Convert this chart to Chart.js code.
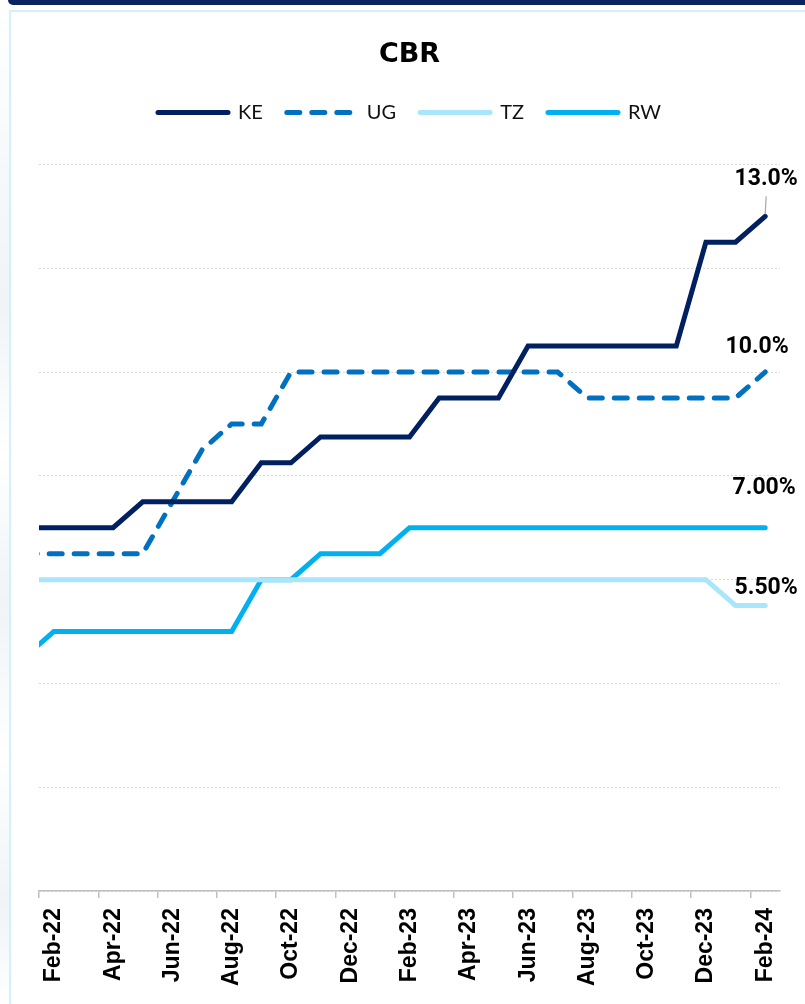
<!DOCTYPE html>
<html>
<head>
<meta charset="utf-8">
<title>CBR</title>
<script src="https://cdn.jsdelivr.net/npm/chart.js@4.4.1/dist/chart.umd.min.js"></script>
<style>
  html, body { margin: 0; padding: 0; background: #fff; width: 805px; height: 1004px; overflow: hidden; }
  .topbar { position: absolute; left: 8px; right: 0; top: 0; height: 5px; background: #0b2361; border-bottom-left-radius: 6px; }
  .sidestrip { position: absolute; left: 0; top: 5px; width: 9px; bottom: 0;
    background: linear-gradient(180deg, #fff 0%, #eef4f7 30%, #fff 45%, #eef4f7 60%, #fff 75%, #eef4f7 90%, #fff 100%); }
  .panel { position: absolute; left: 9px; top: 10px; right: -6px; bottom: -6px; border: 2px solid #d3f0fc; background: #fff; }
  #wrap { position: absolute; left: 0; top: 0; width: 805px; height: 1004px; }
</style>
</head>
<body>
<div class="topbar"></div>
<div class="sidestrip"></div>
<div class="panel"></div>
<div id="wrap"><canvas id="cbrChart" width="805" height="1004"></canvas></div>
<script>
// monthly central bank rates, Jan-22 .. Feb-24
const months = ['Jan-22', 'Feb-22', 'Mar-22', 'Apr-22', 'May-22', 'Jun-22', 'Jul-22', 'Aug-22', 'Sep-22',
  'Oct-22', 'Nov-22', 'Dec-22', 'Jan-23', 'Feb-23', 'Mar-23', 'Apr-23', 'May-23', 'Jun-23', 'Jul-23',
  'Aug-23', 'Sep-23', 'Oct-23', 'Nov-23', 'Dec-23', 'Jan-24', 'Feb-24'];

const tickLabels = ['Feb-22', 'Apr-22', 'Jun-22', 'Aug-22', 'Oct-22', 'Dec-22', 'Feb-23',
  'Apr-23', 'Jun-23', 'Aug-23', 'Oct-23', 'Dec-23', 'Feb-24'];

const keRate = [7.0, 7.0, 7.0, 7.0, 7.5, 7.5, 7.5, 7.5, 8.25, 8.25, 8.75, 8.75, 8.75, 8.75,
  9.5, 9.5, 9.5, 10.5, 10.5, 10.5, 10.5, 10.5, 10.5, 12.5, 12.5, 13.0];
const ugRate = [6.5, 6.5, 6.5, 6.5, 6.5, 7.5, 8.5, 9.0, 9.0, 10.0, 10.0, 10.0, 10.0, 10.0,
  10.0, 10.0, 10.0, 10.0, 10.0, 9.5, 9.5, 9.5, 9.5, 9.5, 9.5, 10.0];
const tzRate = [6.0, 6.0, 6.0, 6.0, 6.0, 6.0, 6.0, 6.0, 6.0, 6.0, 6.0, 6.0, 6.0, 6.0,
  6.0, 6.0, 6.0, 6.0, 6.0, 6.0, 6.0, 6.0, 6.0, 6.0, 5.5, 5.5];
const rwRate = [4.5, 5.0, 5.0, 5.0, 5.0, 5.0, 5.0, 5.0, 6.0, 6.0, 6.5, 6.5, 6.5, 7.0,
  7.0, 7.0, 7.0, 7.0, 7.0, 7.0, 7.0, 7.0, 7.0, 7.0, 7.0, 7.0];

// decimals used for the end-of-line value label of each series
const labelDecimals = [1, 1, 2, 2];

const toPoints = arr => arr.map((v, i) => ({ x: i, y: v }));

function lineSet(label, values, color, dash) {
    return {
        label: label,
        data: toPoints(values),
        borderColor: color,
        backgroundColor: color,
        borderWidth: 5,
        borderDash: dash || [],
        borderCapStyle: 'round',
        pointRadius: 0,
        tension: 0,
        clip: 0
    };
}

// puts the last value above the end of each line
const endLabels = {
    id: 'endLabels',
    afterDatasetsDraw(chart, args, opts) {
        const ctx = chart.ctx;
        ctx.save();
        ctx.font = 'bold 23px Roboto';
        ctx.fillStyle = '#000';
        ctx.textAlign = 'center';
        ctx.textBaseline = 'middle';
        chart.data.datasets.forEach((ds, i) => {
            const meta = chart.getDatasetMeta(i);
            const pt = meta.data[meta.data.length - 1];
            const val = ds.data[ds.data.length - 1].y;
            const off = opts.offsets[i];
            const tx = pt.x + off[0];
            const ty = pt.y + off[1];
            if (off[2]) {
                ctx.strokeStyle = '#a6a6a6';
                ctx.lineWidth = 1.2;
                ctx.beginPath();
                ctx.moveTo(pt.x, pt.y - 2);
                ctx.lineTo(tx, ty + 17);
                ctx.stroke();
            }
            ctx.fillText(val.toFixed(labelDecimals[i]) + '%', tx, ty);
        });
        ctx.restore();
    }
};

// extra room between legend and plot
const legendGap = {
    id: 'legendGap',
    beforeInit(chart) {
        const fit = chart.legend.fit;
        chart.legend.fit = function () {
            fit.bind(chart.legend)();
            this.height += 32;
        };
    }
};

const ctx = document.getElementById('cbrChart');

new Chart(ctx, {
    type: 'line',
    data: {
        datasets: [
            lineSet('KE', keRate, '#002060'),
            lineSet('UG', ugRate, '#0070c0', [13, 12]),
            lineSet('TZ', tzRate, '#a9e6fc'),
            lineSet('RW', rwRate, '#00b0f0')
        ]
    },
    options: {
        responsive: false,
        animation: false,
        devicePixelRatio: 1,
        layout: { padding: { top: 0, left: 39, right: 25, bottom: 8 } },
        plugins: {
            title: {
                display: true,
                text: 'CBR',
                color: '#000',
                font: { family: 'DejaVu Sans', size: 27, weight: 'bold' },
                padding: { top: 39, bottom: 7 }
            },
            legend: {
                display: true,
                position: 'top',
                labels: {
                    usePointStyle: true,
                    pointStyle: 'line',
                    pointStyleWidth: 70,
                    padding: 24,
                    color: '#111',
                    font: { family: 'Lato', size: 20 },
                    // legend lines follow the dataset stroke (dash, caps, width)
                    generateLabels(chart) {
                        const items = Chart.defaults.plugins.legend.labels.generateLabels(chart);
                        items.forEach(item => {
                            const ds = chart.data.datasets[item.datasetIndex];
                            item.lineDash = ds.borderDash;
                            item.lineCap = ds.borderCapStyle;
                            item.lineWidth = ds.borderWidth;
                            item.strokeStyle = ds.borderColor;
                        });
                        return items;
                    }
                }
            },
            tooltip: { enabled: false },
            endLabels: {
                // [dx, dy, leader line] per dataset: KE, UG, TZ, RW
                offsets: [[1, -37, true], [-8, -25], [1, -17], [-1, -39]]
            }
        },
        scales: {
            x: {
                type: 'linear',
                min: 0.5,
                max: 25.5,
                afterBuildTicks(scale) {
                    scale.ticks = tickLabels.map(l => ({ value: months.indexOf(l) - 0.5 }));
                },
                ticks: {
                    autoSkip: false,
                    maxRotation: 90,
                    minRotation: 90,
                    labelOffset: 15,
                    padding: 10,
                    color: '#000',
                    font: { family: 'Liberation Sans', size: 23, weight: 'bold' },
                    callback: (value, index) => tickLabels[index]
                },
                grid: {
                    drawOnChartArea: false,
                    drawTicks: true,
                    tickLength: 7,
                    color: '#bfbfbf',
                    lineWidth: 1.5
                },
                border: { display: true, color: '#bfbfbf', width: 1.5 }
            },
            y: {
                min: 0,
                max: 14,
                ticks: { display: false, stepSize: 2 },
                grid: { color: '#d9d9d9', lineWidth: 1, drawTicks: false },
                border: { display: false, dash: [2, 2] }
            }
        }
    },
    plugins: [endLabels, legendGap]
});
</script>
</body>
</html>
